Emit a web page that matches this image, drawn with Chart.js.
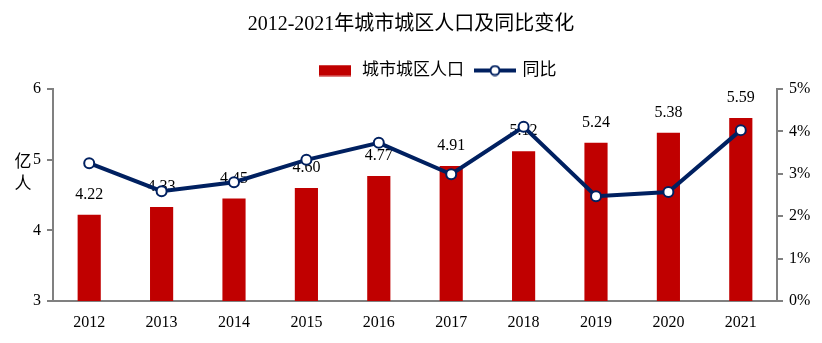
<!DOCTYPE html>
<html>
<head>
<meta charset="utf-8">
<script src="https://cdn.jsdelivr.net/npm/chart.js@4/dist/chart.umd.min.js"></script>
<style>
html,body{margin:0;padding:0;background:#fff;}
#wrap{width:822px;height:343px;}
</style>
</head>
<body>
<div id="wrap"><canvas id="c" width="822" height="343"></canvas></div>
<script>
const categories = ['2012','2013','2014','2015','2016','2017','2018','2019','2020','2021'];
const population = [4.22, 4.33, 4.45, 4.60, 4.77, 4.91, 5.12, 5.24, 5.38, 5.59];
const yoyPercent = [3.25, 2.59, 2.80, 3.33, 3.73, 2.99, 4.11, 2.47, 2.57, 4.03];
const leftTicks = [3, 4, 5, 6];
const rightTicks = [0, 1, 2, 3, 4, 5];
const titleText = '2012-2021年城市城区人口及同比变化';
const seriesNames = ['城市城区人口', '同比'];
const yAxisTitle = ['亿', '人'];

const FONT = "'Liberation Serif', 'Noto Sans CJK SC', serif";
const RED = '#C00000';
const NAVY = '#002060';
const GRAY = '#808080';

function makeIcon(kind){
  const cv = document.createElement('canvas');
  cv.width = kind === 'bar' ? 32 : 42; cv.height = 12;
  const g = cv.getContext('2d');
  if (kind === 'bar') {
    g.fillStyle = RED;
    g.fillRect(0, 0.5, 32, 11);
  } else {
    g.strokeStyle = NAVY; g.lineWidth = 4;
    g.beginPath(); g.moveTo(0, 6); g.lineTo(42, 6); g.stroke();
    g.beginPath(); g.arc(21, 6, 4.5, 0, Math.PI*2);
    g.fillStyle = '#fff'; g.fill();
    g.lineWidth = 2; g.stroke();
  }
  return cv;
}
const barIcon = makeIcon('bar');
const lineIcon = makeIcon('line');

const barLabels = {
  id: 'barLabels',
  afterDatasetDraw(chart, args) {
    if (args.index !== 0) return;
    const ctx = chart.ctx;
    const meta = args.meta;
    ctx.save();
    ctx.font = '16px ' + FONT;
    ctx.fillStyle = '#000';
    ctx.textAlign = 'center';
    ctx.textBaseline = 'bottom';
    meta.data.forEach((el, i) => {
      ctx.fillText(population[i].toFixed(2), el.x, el.y - 12);
    });
    ctx.restore();
  }
};

const axisTitle = {
  id: 'axisTitle',
  afterDraw(chart) {
    const ctx = chart.ctx;
    ctx.save();
    ctx.font = '17px ' + FONT;
    ctx.fillStyle = '#000';
    ctx.textAlign = 'center';
    ctx.textBaseline = 'middle';
    ctx.fillText(yAxisTitle[0], 23, 163);
    ctx.fillText(yAxisTitle[1], 23, 185);
    ctx.restore();
  }
};

const legendShift = {
  id: 'legendShift',
  afterLayout(chart) {
    if (chart.legend) { chart.legend.left += 25; chart.legend.right += 25; }
  }
};

new Chart(document.getElementById('c'), {
  data: {
    labels: categories,
    datasets: [
      {
        type: 'bar',
        label: seriesNames[0],
        data: population,
        backgroundColor: RED,
        yAxisID: 'y',
        barPercentage: 0.32,
        categoryPercentage: 1,
        order: 2
      },
      {
        type: 'line',
        label: seriesNames[1],
        data: yoyPercent,
        borderColor: NAVY,
        borderWidth: 4,
        pointRadius: 5,
        pointBorderWidth: 2,
        pointBackgroundColor: '#fff',
        pointBorderColor: NAVY,
        tension: 0,
        yAxisID: 'y1',
        order: 1
      }
    ]
  },
  options: {
    responsive: false,
    animation: false,
    devicePixelRatio: 1,
    layout: { padding: { top: 0, left: 0, right: 0, bottom: 0 } },
    plugins: {
      tooltip: { enabled: false },
      title: {
        display: true,
        text: titleText,
        color: '#000',
        font: { family: FONT, size: 20, weight: 'normal' },
        padding: { top: 13, bottom: 13 }
      },
      legend: {
        display: true,
        position: 'top',
        labels: {
          color: '#000',
          font: { family: FONT, size: 17 },
          usePointStyle: true,
          pointStyleWidth: 38,
          boxHeight: 12,
          padding: 12,
          sort: (a, b) => a.datasetIndex - b.datasetIndex,
          generateLabels(chart) {
            const items = Chart.defaults.plugins.legend.labels.generateLabels(chart);
            items.forEach(it => { it.pointStyle = it.datasetIndex === 0 ? barIcon : lineIcon; });
            return items;
          }
        }
      }
    },
    scales: {
      x: {
        grid: { display: false, drawTicks: false },
        border: { display: true, color: GRAY, width: 2 },
        ticks: { color: '#000', font: { family: FONT, size: 16 }, padding: 12 },
        afterFit(s) { s.height = 42; }
      },
      y: {
        position: 'left',
        min: 3, max: 6,
        afterBuildTicks(s) { s.ticks = leftTicks.map(v => ({ value: v })); },
        grid: { display: true, drawOnChartArea: false, drawTicks: true, tickLength: 6, color: GRAY, lineWidth: 2 },
        border: { display: true, color: GRAY, width: 2 },
        ticks: { color: '#000', font: { family: FONT, size: 16 }, padding: 6 },
        afterFit(s) { s.width = 53; }
      },
      y1: {
        position: 'right',
        min: 0, max: 5,
        afterBuildTicks(s) { s.ticks = rightTicks.map(v => ({ value: v })); },
        grid: { display: true, drawOnChartArea: false, drawTicks: true, tickLength: 6, color: GRAY, lineWidth: 2 },
        border: { display: true, color: GRAY, width: 2 },
        ticks: { color: '#000', font: { family: FONT, size: 16 }, padding: 6, callback: v => v + '%' },
        afterFit(s) { s.width = 45; }
      }
    }
  },
  plugins: [barLabels, axisTitle, legendShift]
});
</script>
</body>
</html>
